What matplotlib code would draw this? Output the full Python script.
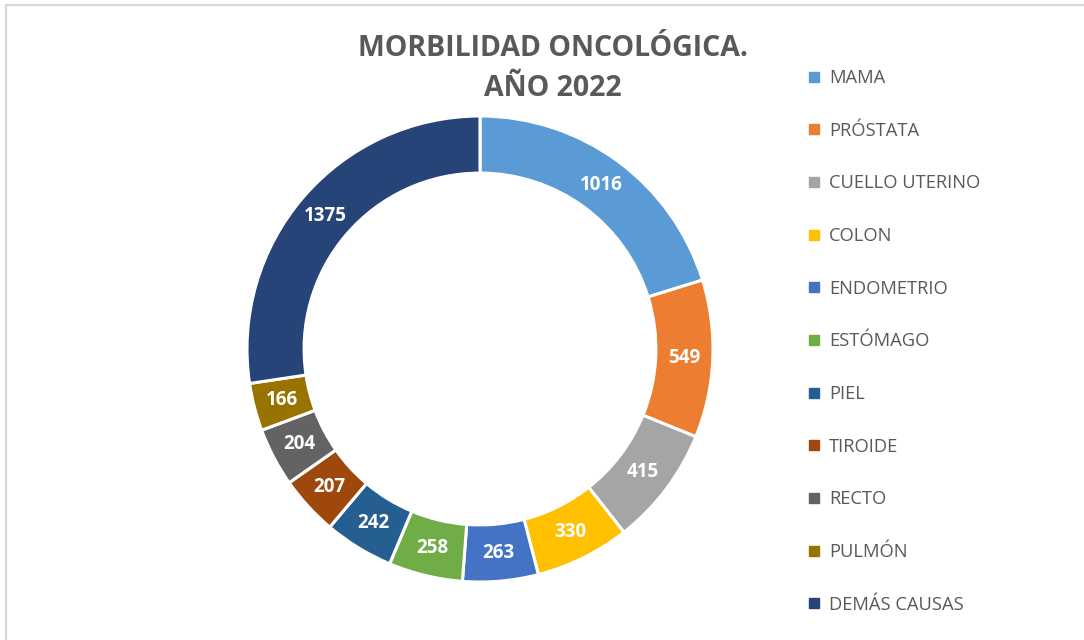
import matplotlib
matplotlib.use("Agg")
import matplotlib.pyplot as plt
from matplotlib.patches import Rectangle
from matplotlib.lines import Line2D
import numpy as np

categories = ["MAMA", "PRÓSTATA", "CUELLO UTERINO", "COLON", "ENDOMETRIO",
              "ESTÓMAGO", "PIEL", "TIROIDE", "RECTO", "PULMÓN", "DEMÁS CAUSAS"]
values = [1016, 549, 415, 330, 263, 258, 242, 207, 204, 166, 1375]
colors = ["#5B9BD5", "#ED7D31", "#A5A5A5", "#FFC000", "#4472C4", "#70AD47",
          "#255E91", "#9E480E", "#636363", "#997300", "#264478"]
title = "MORBILIDAD ONCOLÓGICA.\nAÑO 2022"

W, H = 1084, 640
fig = plt.figure(figsize=(W / 100, H / 100), dpi=100)
plt.rcParams['font.family'] = ['Open Sans', 'DejaVu Sans']

# border
fig.patches.append(Rectangle((5.5 / W, -0.1), 1.2, 1.1 - 5.5 / H,
                             transform=fig.transFigure, fill=False,
                             edgecolor="#D9D9D9", linewidth=1.6))

cx, cy, R = 480, 349, 233
ax = fig.add_axes([(cx - R) / W, (H - cy - R) / H, 2 * R / W, 2 * R / H])
wedges, _ = ax.pie(values, colors=colors, startangle=90, counterclock=False,
                   radius=1.0, wedgeprops=dict(width=0.245, edgecolor="white", linewidth=2.2))
ax.set_xlim(-1, 1)
ax.set_ylim(-1, 1)
ax.axis("off")

total = sum(values)
cum = 0
for v in values:
    mid = 90 - (cum + v / 2) / total * 360
    cum += v
    r = 0.877
    ax.text(r * np.cos(np.radians(mid)), r * np.sin(np.radians(mid)), str(v),
            ha="center", va="center", color="white", fontsize=13.5, fontweight="bold")

fig.text(553 / W, 1 - 68 / H, title, ha="center", va="center", fontsize=20.5,
         fontweight="bold", color="#595959", linespacing=1.5)

handles = [Line2D([], [], marker="s", linestyle="none", markersize=6.5,
                  markerfacecolor=c, markeredgecolor=c) for c in colors]
fig.legend(handles, categories, loc="upper left", bbox_to_anchor=(797 / W, 1 - 60 / H),
           frameon=False, fontsize=13.2, labelcolor="#595959", handlelength=0.8,
           handletextpad=0.45, labelspacing=1.89, borderpad=0)

fig.savefig("out.png", dpi=100)
